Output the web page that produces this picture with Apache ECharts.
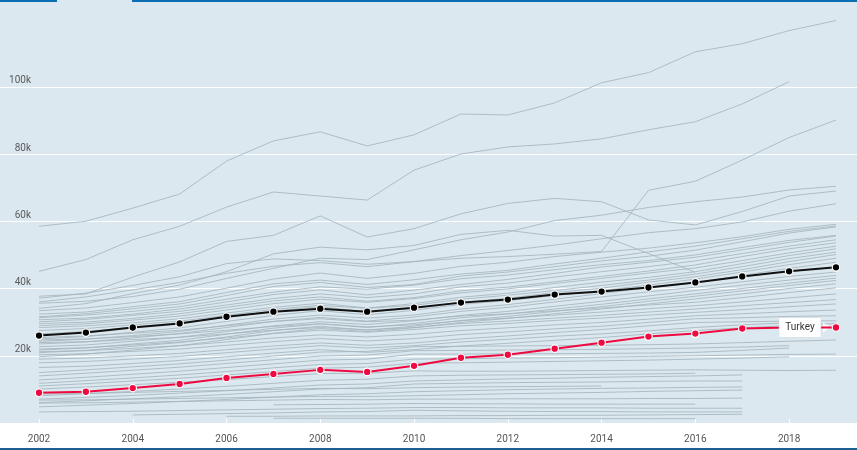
<!DOCTYPE html>
<html><head><meta charset="utf-8">
<script src="https://cdn.jsdelivr.net/npm/echarts@6/dist/echarts.min.js"></script>
<style>html,body{margin:0;padding:0;background:#fff}#c{width:857px;height:450px}</style>
</head><body><div id="c"></div>
<script>
// Years 2002..2019, values in thousands
const years = [2002,2003,2004,2005,2006,2007,2008,2009,2010,2011,2012,2013,2014,2015,2016,2017,2018,2019];
const xTickLabels = [2002,2004,2006,2008,2010,2012,2014,2016,2018];
const yTickValues = [20,40,60,80,100];

const oecdAverage = [26.0,26.9,28.4,29.6,31.6,33.1,34.0,33.1,34.3,35.8,36.7,38.2,39.1,40.3,41.8,43.6,45.1,46.3];
const turkey      = [9.0,9.3,10.4,11.6,13.4,14.6,15.8,15.2,17.0,19.4,20.3,22.1,23.9,25.7,26.6,28.1,28.4,28.4];
const highlightLabel = 'Turkey';

const g01 = [58.5,60.0,63.9,68.1,77.9,83.9,86.6,82.4,85.7,91.9,91.6,95.2,101.2,104.2,110.4,112.8,116.7,119.7];
const g02 = [45.1,48.6,54.5,58.5,64.2,68.7,67.5,66.3,75.2,80.0,82.1,83.0,84.5,87.2,89.6,94.9,101.5,null];
const g03 = [37.7,38.4,43.4,47.9,54.0,55.8,61.6,55.3,57.8,62.2,65.3,66.8,65.8,60.4,58.9,62.9,67.5,69.0];
const g04 = [37.1,38.6,40.9,43.5,47.4,48.8,48.3,47.2,48.0,49.0,49.5,50.2,51.0,69.2,71.9,78.2,84.9,90.1];
const g05 = [35.6,36.2,37.6,39.8,43.0,46.0,49.0,48.6,51.5,54.5,56.8,60.2,61.8,64.1,65.8,67.2,69.3,70.4];
const g06 = [36.0,37.5,39.6,41.8,44.5,46.6,47.7,46.5,48.0,49.8,51.3,52.9,54.8,56.6,57.8,59.8,63.0,65.2];
const g07 = [34.1,35.5,38.5,41.0,45.0,50.3,52.3,51.5,52.8,56.1,57.3,55.6,55.8,50.4,44.8,null,null,null];

const m01 = [33.4,34.2,35.8,37.5,40.1,42.8,44.6,43.0,44.5,46.6,47.8,49.5,50.8,52.0,53.6,55.4,57.6,59.1];
const m02 = [32.4,33.0,34.6,36.1,38.8,41.4,42.5,41.2,42.6,44.3,45.4,47.3,49.0,50.9,52.6,54.8,57.0,58.6];
const m03 = [31.6,32.5,34.0,35.4,37.9,40.6,41.8,40.3,41.2,43.7,44.9,46.5,48.2,49.6,51.4,53.9,56.5,58.3];
const m04 = [31.3,32.1,33.2,34.6,36.8,38.9,40.5,39.8,41.0,42.9,44.0,45.6,47.1,48.3,50.0,52.2,54.3,55.8];
const m05 = [30.7,31.2,32.4,33.9,36.0,38.2,39.6,38.1,39.5,41.2,42.7,44.5,46.4,47.8,49.3,51.5,53.7,55.6];
const m06 = [30.1,30.8,32.0,33.2,35.1,37.0,38.4,37.3,38.4,40.5,41.6,43.4,45.0,46.5,48.2,50.4,52.6,54.5];
const m07 = [29.6,30.0,31.1,32.5,34.4,36.3,37.5,36.2,37.3,39.3,40.4,42.0,43.6,45.2,47.0,49.5,51.8,53.6];
const m08 = [29.0,29.5,30.6,31.8,33.6,35.5,36.8,35.9,37.0,38.7,39.9,41.5,43.0,44.6,46.1,48.3,50.6,52.6];
const m09 = [28.4,28.9,29.8,31.0,32.7,34.4,35.6,34.2,35.5,37.4,38.6,40.3,41.9,43.3,45.0,47.4,49.8,51.8];
const m10 = [27.5,28.1,29.2,30.3,32.0,33.8,35.0,34.1,35.0,36.8,38.0,39.4,40.9,42.5,44.3,46.5,48.9,50.8];
const m11 = [26.5,27.2,28.5,29.8,31.4,33.3,34.6,33.0,34.2,35.9,37.1,38.8,40.1,41.9,43.5,45.6,48.0,50.1];
const m12 = [25.0,25.7,27.0,28.3,30.2,32.0,33.4,32.2,33.5,35.3,36.4,37.9,39.4,41.0,42.8,44.9,47.1,49.0];
const m13 = [24.3,24.9,26.0,27.2,29.1,30.9,32.1,31.2,32.1,33.9,35.2,36.8,38.5,40.2,41.7,43.9,46.0,47.8];

const b01 = [23.5,24.1,25.3,26.6,28.4,30.2,31.4,30.3,31.5,33.2,34.4,36.0,37.5,39.0,40.4,42.0,43.6,44.9];
const b02 = [22.7,23.2,24.3,25.5,27.2,28.9,30.1,29.3,30.4,32.0,33.2,34.7,36.2,37.8,39.4,41.0,42.5,43.9];
const b03 = [21.7,22.3,23.5,24.6,26.4,28.2,29.5,28.4,29.6,31.3,32.4,33.9,35.3,36.9,38.4,40.0,41.6,43.1];
const b04 = [20.9,21.6,22.8,23.9,25.6,27.5,28.8,27.6,28.8,30.5,31.7,33.2,34.6,36.2,37.7,39.3,40.9,42.4];
const b05 = [19.7,20.5,21.7,23.0,24.8,26.7,28.1,27.2,28.3,29.9,31.1,32.5,33.9,35.4,36.9,38.4,40.0,41.4];
const b06 = [25.4,25.9,26.7,27.6,28.9,30.2,31.0,30.1,30.6,31.8,32.5,33.4,34.2,35.1,35.9,37.3,38.8,40.2];
const b07 = [24.7,25.0,25.7,26.5,27.6,28.7,29.5,28.6,29.2,30.4,31.2,32.1,33.0,34.0,34.9,36.0,37.2,38.4];
const b08 = [23.9,24.2,24.8,25.5,26.5,27.6,28.4,27.7,28.4,29.6,30.3,31.2,32.0,33.0,33.9,34.9,35.8,36.7];
const b09 = [22.0,22.4,23.2,24.1,25.3,26.6,27.6,27.0,27.8,28.9,29.6,30.5,31.2,32.1,32.9,33.7,34.6,35.4];
const b10 = [21.2,21.5,22.2,23.0,24.1,25.3,26.2,25.6,26.4,27.5,28.3,29.2,29.9,30.9,31.9,32.5,33.1,33.6];
const b11 = [20.3,20.6,21.3,22.0,23.1,24.2,25.1,24.4,25.1,26.3,27.1,28.0,28.8,29.9,31.0,31.3,31.7,31.9];
const b12 = [19.0,19.3,20.0,20.7,21.8,22.9,23.8,23.1,23.8,25.0,25.9,26.9,27.8,28.9,29.9,30.1,30.3,30.4];
const b13 = [17.9,18.3,19.0,19.8,20.9,22.0,23.0,22.3,23.0,24.1,24.9,25.8,26.5,27.4,28.4,29.2,29.8,null];
const b14 = [16.5,16.9,17.7,18.6,19.7,20.8,21.8,21.0,21.8,22.9,23.7,24.6,25.4,26.5,27.5,28.3,29.0,29.6];

const l01 = [15.0,15.8,16.7,17.6,18.7,19.9,21.1,21.3,22.7,22.8,22.9,23.0,23.1,23.3,23.5,23.9,24.3,24.7];
const l02 = [14.0,14.8,15.7,16.6,17.7,18.8,19.9,20.2,21.5,21.6,21.7,21.8,21.9,22.1,22.3,22.6,23.0,null];
const l03 = [12.8,13.6,14.5,15.4,16.5,17.6,18.7,19.0,20.5,20.5,20.6,20.6,20.7,20.8,21.0,21.6,22.3,null];
const l04 = [11.8,12.6,13.4,14.3,15.3,16.4,17.4,17.7,19.0,19.1,19.3,19.4,19.6,19.8,20.0,20.2,20.4,20.5];
const l05 = [11.0,11.7,12.5,13.3,14.3,15.3,16.3,16.6,17.8,17.9,18.1,18.3,18.5,18.7,19.0,19.3,19.7,null];
const l06 = [10.1,10.7,11.4,12.1,12.9,13.8,14.7,14.8,15.5,15.4,15.4,15.5,15.6,15.7,15.8,15.7,15.6,15.7];
const l07 = [8.1,8.7,9.4,10.1,10.9,11.8,12.7,13.0,14.0,14.2,14.3,14.4,14.5,14.6,14.8,null,null,null];
const l08 = [7.1,7.6,8.2,8.9,9.6,10.4,11.3,11.6,12.5,12.8,13.1,13.3,13.6,13.8,14.0,14.3,null,null];
const l09 = [6.1,6.6,7.2,7.8,8.5,9.3,10.1,10.5,11.6,11.8,12.0,12.1,12.2,12.4,12.5,12.5,null,null];
const l10 = [8.6,8.8,9.1,9.4,9.7,10.0,10.3,10.2,10.5,10.7,10.8,10.9,11.0,null,null,null,null,null];
const l11 = [4.8,5.3,5.8,6.4,7.0,7.7,8.4,8.7,9.3,9.6,9.9,10.1,10.3,10.4,10.6,10.7,null,null];
const l12 = [6.8,6.9,7.1,7.3,7.5,7.7,7.9,7.9,8.1,8.4,8.7,8.9,9.1,9.4,9.6,9.8,null,null];
const l13 = [5.9,6.0,6.2,6.4,6.6,6.8,7.0,6.9,7.1,7.1,7.2,7.2,7.2,7.3,7.3,7.4,null,null];
const l14 = [null,null,null,null,null,5.4,5.5,5.6,5.8,5.7,5.7,5.6,5.6,5.6,5.6,null,null,null];
const l15 = [3.3,3.4,3.5,3.7,3.9,4.1,4.3,4.4,4.6,4.6,4.5,4.5,4.5,4.4,4.4,4.4,null,null];
const l16 = [null,null,2.4,2.6,2.8,3.0,3.3,3.4,3.8,3.6,3.5,3.4,3.4,3.3,3.3,3.3,null,null];
const l17 = [null,null,null,null,2.0,2.0,2.1,2.1,2.1,2.2,2.2,2.3,2.3,2.4,2.5,2.6,null,null];
const l18 = [null,null,null,null,null,1.4,1.4,1.4,1.4,1.4,1.3,1.3,1.3,1.3,1.3,null,null,null];

const otherCountries = [g01,g02,g03,g04,g05,g06,g07,m01,m02,m03,m04,m05,m06,m07,m08,m09,m10,m11,m12,m13,
  b01,b02,b03,b04,b05,b06,b07,b08,b09,b10,b11,b12,b13,b14,
  l01,l02,l03,l04,l05,l06,l07,l08,l09,l10,l11,l12,l13,l14,l15,l16,l17,l18];

function toPairs(arr){ const out=[]; arr.forEach((v,i)=>{ if(v!==null) out.push([years[i],v]); }); return out; }

const W = 857, PLOT_BOTTOM = 27;
const firstX = 39, lastX = 836;
const pxPerYear = (lastX-firstX)/(years[years.length-1]-years[0]);
const xMin = years[0] - firstX/pxPerYear;
const xMax = years[years.length-1] + (W-lastX)/pxPerYear;
const lastPoint = [years[years.length-1], turkey[turkey.length-1]];

const series = otherCountries.map(arr => ({
  type:'line', data: toPairs(arr), symbol:'none', silent:true, z:1,
  lineStyle:{color:'#a5b5bd', width:0.85}
}));
series.push({
  type:'line', data: toPairs(oecdAverage), symbol:'circle', symbolSize:7.5, z:5,
  lineStyle:{color:'#111', width:2}, itemStyle:{color:'#000', borderColor:'#fff', borderWidth:1.2}
});
// pointer of the label box
series.push({
  type:'scatter', data:[lastPoint], symbol:'triangle', symbolSize:[10,8], symbolRotate:-90,
  symbolOffset:[-9,0], silent:true, z:6, itemStyle:{color:'#fff'}
});
const tData = toPairs(turkey).map((p,i,a)=> i===a.length-1 ? {value:p, label:{
  show:true, formatter: highlightLabel, position:'left', distance:11,
  backgroundColor:'#fff', padding:[4,6,3,6], color:'#333', fontSize:10, lineHeight:12,
  fontFamily:'Roboto', borderColor:'#d5dde2', borderWidth:0.5 }} : p);
series.push({
  type:'line', data: tData, symbol:'circle', symbolSize:7.5, z:7,
  lineStyle:{color:'#ee0a40', width:2}, itemStyle:{color:'#ee0a40', borderColor:'#fff', borderWidth:1.2}
});

const chart = echarts.init(document.getElementById('c'), null, {renderer:'canvas'});
chart.setOption({
  animation:false,
  backgroundColor:'#fff',
  textStyle:{fontFamily:'Roboto'},
  grid:{left:0,right:0,top:0,bottom:PLOT_BOTTOM,show:true,backgroundColor:'#dce8ef',borderWidth:0},
  xAxis:{type:'value',min:xMin,max:xMax,
    axisLine:{show:false},
    axisTick:{show:true,inside:true,length:4,lineStyle:{color:'#fff',width:1},customValues:xTickLabels},
    axisLabel:{customValues:xTickLabels,color:'#555',fontSize:10,margin:11,fontFamily:'Roboto',formatter:v=>String(v)},
    splitLine:{show:false}},
  yAxis:{type:'value',min:0,max:125.8,
    axisLine:{show:false},
    axisTick:{show:false,customValues:yTickValues},
    axisLabel:{customValues:yTickValues,inside:true,align:'right',margin:31,verticalAlign:'bottom',
      padding:[0,0,1,0],color:'#5a5a5a',fontSize:10,fontFamily:'Roboto',formatter:v=>v+'k'},
    splitLine:{show:true,lineStyle:{color:'#fff',width:1.2}}},
  graphic:[
    {type:'rect',left:0,top:0,shape:{width:57,height:2},style:{fill:'#0a6db4'},z:100},
    {type:'rect',left:132,top:0,shape:{width:725,height:2},style:{fill:'#0a6db4'},z:100},
    {type:'rect',left:0,top:448,shape:{width:857,height:2},style:{fill:'#1c5e90'},z:100}
  ],
  series
});
</script></body></html>
